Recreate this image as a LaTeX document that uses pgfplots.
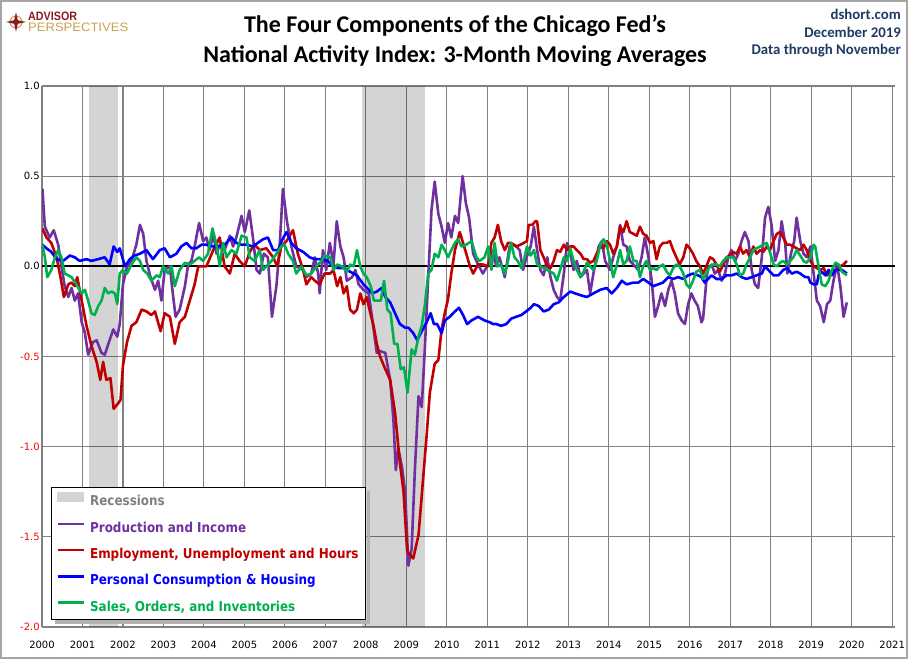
\documentclass[border=0pt]{standalone}
\usepackage{pgfplots}
\pgfplotsset{compat=1.18}
\usepackage{fontspec}
\usepackage{graphicx}
\setmainfont{Carlito}
\newfontfamily\dvs{DejaVu Sans}
\newfontfamily\dvsb{DejaVu Sans}[FakeStretch=0.88]
\newfontfamily\lib{Liberation Sans}
\definecolor{purpC}{HTML}{7030A0}
\definecolor{redC}{HTML}{C00000}
\definecolor{blueC}{HTML}{0000FF}
\definecolor{greenC}{HTML}{00B050}
\definecolor{navyC}{HTML}{1F3A64}
\definecolor{logored}{HTML}{8C1C24}
\definecolor{logogold}{HTML}{C8A050}
\definecolor{recTxt}{HTML}{808080}
\begin{document}
\begin{tikzpicture}[x=1pt,y=1pt]
\useasboundingbox (0,0) rectangle (910,661);
\draw[gray!70, line width=1.2pt] (1,3) rectangle (907,660);
% logo
\draw[logogold, line width=1pt] (16,639) circle (6);
\fill[logored] (16,649)--(17.8,640.8)--(26,639)--(17.8,637.2)--(16,629)--(14.2,637.2)--(6,639)--(14.2,640.8)--cycle;
\node[anchor=base west, inner sep=0, text=logored] at (28,640.5) {\resizebox{49pt}{8.5pt}{\lib\bfseries ADVISOR}};
\node[anchor=base west, inner sep=0, text=logogold] at (28,629.5) {\resizebox{100pt}{8.5pt}{\lib PERSPECTIVES}};
% titles
\node[font=\fontsize{24}{28}\selectfont\bfseries] at (455,635) {The Four Components of the Chicago Fed's};
\node[font=\fontsize{24}{28}\selectfont\bfseries] at (455,605) {National Activity Index: 3-Month Moving Averages};
\node[anchor=base east, inner sep=0, font=\fontsize{14.8}{16}\selectfont\bfseries, text=navyC] at (901,641) {dshort.com};
\node[anchor=base east, inner sep=0, font=\fontsize{14.8}{16}\selectfont\bfseries, text=navyC] at (901,623.5) {December 2019};
\node[anchor=base east, inner sep=0, font=\fontsize{14.8}{16}\selectfont\bfseries, text=navyC] at (901,606) {Data through November};
\begin{axis}[
  at={(42pt,34pt)}, anchor=south west,
  scale only axis, width=853pt, height=541pt,
  xmin=2000, xmax=2021.07, ymin=-2, ymax=1,
  axis line style={draw=none},
  xtick={2000,2001,2002,2003,2004,2005,2006,2007,2008,2009,2010,2011,2012,2013,2014,2015,2016,2017,2018,2019,2020,2021},
  xticklabels={2000,2001,2002,2003,2004,2005,2006,2007,2008,2009,2010,2011,2012,2013,2014,2015,2016,2017,2018,2019,2020,2021},
  ytick={-2,-1.5,-1,-0.5,0,0.5,1},
  yticklabels={\textcolor{red}{-2.0},\textcolor{red}{-1.5},\textcolor{red}{-1.0},\textcolor{red}{-0.5},0.0,0.5,1.0},
  major tick length=0pt,
  xticklabel style={font=\dvs\fontsize{10}{11}\selectfont, yshift=-11pt},
  yticklabel style={font=\dvs\fontsize{10}{11}\selectfont, xshift=1.2pt},
  grid=major,
  major grid style={draw=gray, line width=1.1pt},
  legend cell align=left,
  legend style={name=leg, at={(0.0106,0.013)}, anchor=south west, draw=black, line width=0.9pt, fill=white,
    font=\dvsb\bfseries\fontsize{13.6}{15}\selectfont,
    inner xsep=5pt, inner ysep=5pt, row sep=10.5pt,
    /tikz/every odd column/.append style={column sep=3pt}},
  legend image code/.code={\draw[#1, line width=2.6pt] (0pt,3.8pt) -- (26pt,3.8pt);},
]
% recessions
\addplot[fill=black, fill opacity=0.17, draw=none, forget plot] coordinates {(2001.17,-2) (2001.17,1) (2001.87,1) (2001.87,-2)} -- cycle;
\addplot[fill=black, fill opacity=0.17, draw=none, forget plot] coordinates {(2007.90,-2) (2007.90,1) (2009.46,1) (2009.46,-2)} -- cycle;
% zero line
\addplot[black, line width=1.8pt, forget plot] coordinates {(2000,0) (2021.07,0)};
% Production and Income
\addplot[purpC, line width=2.6pt, line join=round, forget plot] coordinates {
(2000.01,0.43) (2000.07,0.22) (2000.19,0.16) (2000.29,0.20) (2000.40,0.12) (2000.48,0.00) (2000.56,-0.11) (2000.65,-0.17) (2000.73,-0.12) (2000.81,-0.19) (2000.89,-0.15) (2000.98,-0.31)
(2001.06,-0.37) (2001.14,-0.49) (2001.26,-0.42) (2001.35,-0.41) (2001.47,-0.48) (2001.55,-0.49) (2001.67,-0.41) (2001.76,-0.35) (2001.86,-0.39) (2001.92,-0.32)
(2002.00,-0.10) (2002.10,0.00) (2002.21,0.03) (2002.33,0.12) (2002.42,0.23) (2002.50,0.18) (2002.58,0.03) (2002.68,-0.06) (2002.79,-0.13) (2002.87,-0.08) (2002.95,-0.19)
(2003.03,-0.02) (2003.16,0.00) (2003.21,-0.11) (2003.30,-0.28) (2003.40,-0.24) (2003.53,-0.11) (2003.61,0.01) (2003.69,0.03) (2003.77,0.11) (2003.88,0.24) (2003.98,0.14)
(2004.06,0.16) (2004.14,0.09) (2004.23,0.18) (2004.31,0.07) (2004.39,0.12) (2004.51,0.09) (2004.64,0.17) (2004.72,0.11) (2004.80,0.16) (2004.93,0.28)
(2005.01,0.19) (2005.12,0.31) (2005.21,0.16) (2005.30,-0.02) (2005.38,-0.04) (2005.48,0.07) (2005.58,0.05) (2005.68,-0.28) (2005.79,-0.11) (2005.87,0.11) (2005.95,0.43)
(2006.05,0.25) (2006.16,0.11) (2006.28,0.00) (2006.45,-0.02) (2006.53,-0.06) (2006.65,-0.04) (2006.74,0.05) (2006.82,-0.04) (2006.86,-0.15) (2006.94,0.09)
(2007.02,-0.02) (2007.11,0.13) (2007.20,0.01) (2007.28,0.25) (2007.37,0.11) (2007.45,0.05) (2007.53,-0.08) (2007.66,-0.06) (2007.74,-0.02) (2007.82,-0.10) (2007.94,-0.13)
(2008.07,-0.15) (2008.15,-0.28) (2008.27,-0.48) (2008.35,-0.47) (2008.48,-0.48) (2008.60,-0.63) (2008.68,-0.85) (2008.74,-1.13) (2008.80,-1.01) (2008.89,-1.11) (2008.97,-1.25)
(2009.05,-1.66) (2009.13,-1.57) (2009.21,-1.13) (2009.30,-0.72) (2009.38,-0.78) (2009.46,-0.44) (2009.54,-0.06) (2009.62,0.31) (2009.70,0.47) (2009.79,0.29) (2009.87,0.22) (2009.95,0.13)
(2010.03,0.24) (2010.11,0.16) (2010.20,0.28) (2010.28,0.24) (2010.39,0.50) (2010.47,0.35) (2010.55,0.27) (2010.65,0.07) (2010.77,0.01) (2010.89,-0.04)
(2011.02,0.01) (2011.14,0.09) (2011.22,0.00) (2011.30,0.05) (2011.43,-0.06) (2011.55,0.11) (2011.67,0.12) (2011.80,0.09) (2011.88,-0.02) (2011.97,0.05)
(2012.07,0.11) (2012.15,0.22) (2012.23,0.09) (2012.31,-0.02) (2012.39,-0.05) (2012.48,0.05) (2012.56,-0.06) (2012.64,-0.13) (2012.72,-0.17) (2012.80,-0.19) (2012.89,-0.04) (2012.97,0.13)
(2013.05,0.07) (2013.13,-0.02) (2013.21,0.03) (2013.30,-0.06) (2013.38,-0.04) (2013.46,-0.02) (2013.54,-0.15) (2013.62,-0.04) (2013.75,0.11) (2013.83,0.14) (2013.91,0.03)
(2014.03,-0.02) (2014.11,0.05) (2014.20,0.11) (2014.28,0.23) (2014.36,0.12) (2014.44,0.11) (2014.52,0.03) (2014.61,0.01) (2014.73,-0.02) (2014.81,0.05) (2014.89,0.16) (2014.98,0.05)
(2015.06,-0.08) (2015.14,-0.28) (2015.22,-0.22) (2015.30,-0.15) (2015.39,-0.22) (2015.47,-0.13) (2015.55,-0.08) (2015.63,-0.15) (2015.71,-0.26) (2015.80,-0.30) (2015.88,-0.32) (2015.96,-0.21)
(2016.04,-0.15) (2016.12,-0.19) (2016.20,-0.22) (2016.29,-0.31) (2016.33,-0.29) (2016.41,-0.08) (2016.45,-0.01) (2016.54,0.01) (2016.62,-0.04) (2016.70,-0.02) (2016.79,-0.08) (2016.87,-0.04) (2016.95,0.05)
(2017.03,0.09) (2017.12,0.03) (2017.20,0.07) (2017.28,0.14) (2017.36,0.19) (2017.45,0.14) (2017.53,-0.02) (2017.61,-0.10) (2017.69,-0.12) (2017.78,0.05) (2017.86,0.27) (2017.94,0.33)
(2018.02,0.23) (2018.11,0.03) (2018.19,0.09) (2018.27,0.25) (2018.36,0.12) (2018.41,-0.04) (2018.50,0.07) (2018.58,0.14) (2018.64,0.27) (2018.73,0.14) (2018.81,0.07) (2018.89,0.05) (2018.98,0.11)
(2019.06,-0.04) (2019.14,-0.19) (2019.22,-0.22) (2019.31,-0.31) (2019.39,-0.21) (2019.47,-0.19) (2019.55,-0.08) (2019.64,0.01) (2019.72,-0.11) (2019.80,-0.28) (2019.88,-0.20)
};
% Employment, Unemployment and Hours
\addplot[redC, line width=2.6pt, line join=round, forget plot] coordinates {
(2000.01,0.21) (2000.11,0.16) (2000.23,0.13) (2000.36,0.05) (2000.44,-0.04) (2000.54,-0.17) (2000.65,-0.10) (2000.73,-0.09) (2000.81,-0.11) (2000.87,-0.06) (2000.98,-0.19)
(2001.10,-0.33) (2001.22,-0.44) (2001.35,-0.53) (2001.44,-0.63) (2001.51,-0.53) (2001.59,-0.63) (2001.69,-0.62) (2001.77,-0.79) (2001.88,-0.76) (2001.94,-0.74)
(2002.00,-0.55) (2002.10,-0.42) (2002.21,-0.33) (2002.33,-0.31) (2002.46,-0.24) (2002.58,-0.25) (2002.70,-0.27) (2002.79,-0.25) (2002.93,-0.36)
(2003.03,-0.26) (2003.16,-0.28) (2003.28,-0.43) (2003.40,-0.31) (2003.53,-0.28) (2003.65,-0.19) (2003.77,-0.10) (2003.86,0.00) (2003.98,0.00)
(2004.06,0.00) (2004.23,0.09) (2004.39,0.16) (2004.51,0.00) (2004.64,-0.04) (2004.76,0.07) (2004.88,0.03)
(2005.01,0.00) (2005.13,0.08) (2005.25,0.12) (2005.38,0.09) (2005.54,0.10) (2005.71,0.05) (2005.81,0.00) (2005.91,0.11)
(2006.04,0.14) (2006.20,0.20) (2006.32,0.07) (2006.45,-0.02) (2006.53,-0.10) (2006.65,-0.06) (2006.74,-0.08) (2006.86,-0.10) (2006.98,-0.04)
(2007.12,-0.04) (2007.20,-0.02) (2007.29,-0.11) (2007.37,-0.06) (2007.45,-0.15) (2007.53,-0.11) (2007.61,-0.24) (2007.70,-0.26) (2007.78,-0.24) (2007.86,-0.15) (2007.94,-0.21)
(2008.02,-0.17) (2008.11,-0.26) (2008.19,-0.33) (2008.27,-0.43) (2008.35,-0.50) (2008.48,-0.57) (2008.60,-0.63) (2008.72,-0.81) (2008.84,-1.09) (2008.93,-1.25)
(2009.02,-1.58) (2009.17,-1.62) (2009.30,-1.49) (2009.42,-1.16) (2009.50,-0.94) (2009.58,-0.70) (2009.70,-0.54) (2009.79,-0.52) (2009.87,-0.35) (2009.95,-0.26)
(2010.03,-0.18) (2010.11,-0.04) (2010.20,0.09) (2010.32,0.19) (2010.40,0.13) (2010.48,0.07) (2010.57,0.00) (2010.65,-0.04) (2010.77,0.01) (2010.89,0.01)
(2011.02,0.00) (2011.10,0.13) (2011.18,0.16) (2011.26,0.23) (2011.34,0.14) (2011.43,0.09) (2011.51,0.13) (2011.59,0.13) (2011.71,0.11) (2011.82,0.12) (2011.90,0.13) (2011.98,0.14)
(2012.02,0.23) (2012.11,0.23) (2012.19,0.25) (2012.23,0.25) (2012.31,0.09) (2012.39,0.05) (2012.48,0.00) (2012.56,-0.01) (2012.64,0.03) (2012.72,0.09) (2012.80,0.08) (2012.89,0.12) (2012.97,0.09)
(2013.05,0.11) (2013.13,0.11) (2013.21,0.09) (2013.30,0.07) (2013.38,0.04) (2013.46,0.04) (2013.54,0.02) (2013.62,0.03) (2013.70,0.07) (2013.79,0.11) (2013.87,0.10) (2013.95,0.14)
(2014.03,0.12) (2014.11,0.07) (2014.20,0.11) (2014.28,0.22) (2014.36,0.19) (2014.44,0.25) (2014.52,0.19) (2014.61,0.18) (2014.69,0.17) (2014.77,0.22) (2014.85,0.18) (2014.93,0.17)
(2015.02,0.13) (2015.10,0.14) (2015.18,0.04) (2015.26,0.11) (2015.34,0.13) (2015.43,0.13) (2015.51,0.14) (2015.59,0.09) (2015.67,0.05) (2015.75,0.01) (2015.84,0.05) (2015.92,0.12)
(2016.00,0.10) (2016.08,0.07) (2016.16,0.03) (2016.25,0.00) (2016.33,-0.04) (2016.41,0.00) (2016.50,0.05) (2016.58,0.04) (2016.66,0.01) (2016.74,-0.03) (2016.83,0.01) (2016.91,0.05) (2016.99,0.06)
(2017.07,0.08) (2017.16,0.07) (2017.24,0.11) (2017.32,0.07) (2017.40,0.09) (2017.49,0.05) (2017.57,0.11) (2017.65,0.07) (2017.74,0.09) (2017.82,0.08) (2017.90,0.11) (2017.98,0.09)
(2018.07,0.14) (2018.15,0.18) (2018.23,0.19) (2018.31,0.16) (2018.40,0.12) (2018.48,0.12) (2018.56,0.11) (2018.64,0.10) (2018.73,0.09) (2018.81,0.12) (2018.89,0.09) (2018.98,0.03)
(2019.06,0.00) (2019.14,-0.01) (2019.22,-0.02) (2019.31,-0.01) (2019.39,-0.05) (2019.47,-0.04) (2019.55,-0.02) (2019.64,-0.02) (2019.72,0.00) (2019.80,0.01) (2019.88,0.03)
};
% Personal Consumption & Housing
\addplot[blueC, line width=2.6pt, line join=round, forget plot] coordinates {
(2000.01,0.12) (2000.11,0.10) (2000.23,0.08) (2000.36,0.04) (2000.52,0.03) (2000.69,0.06) (2000.81,0.05) (2000.93,0.03)
(2001.10,0.04) (2001.22,0.03) (2001.39,0.04) (2001.55,0.05) (2001.67,0.01) (2001.77,0.11) (2001.86,0.08) (2001.92,0.10)
(2002.05,0.00) (2002.17,0.04) (2002.29,0.06) (2002.42,0.07) (2002.58,0.09) (2002.74,0.04) (2002.91,0.09)
(2003.03,0.10) (2003.16,0.05) (2003.32,0.07) (2003.44,0.11) (2003.57,0.13) (2003.69,0.10) (2003.81,0.10) (2003.94,0.12)
(2004.06,0.12) (2004.23,0.11) (2004.35,0.11) (2004.51,0.12) (2004.68,0.16) (2004.80,0.13) (2004.93,0.12)
(2005.05,0.12) (2005.21,0.11) (2005.33,0.13) (2005.46,0.15) (2005.58,0.16) (2005.71,0.09) (2005.83,0.09) (2005.94,0.15)
(2006.04,0.19) (2006.16,0.13) (2006.28,0.10) (2006.45,0.08) (2006.61,0.05) (2006.74,0.04) (2006.90,0.04)
(2007.06,0.03) (2007.19,0.00) (2007.31,-0.01) (2007.45,-0.01) (2007.61,-0.03) (2007.78,-0.05) (2007.94,-0.10)
(2008.07,-0.13) (2008.15,-0.15) (2008.27,-0.14) (2008.39,-0.12) (2008.48,-0.17) (2008.60,-0.20) (2008.72,-0.26) (2008.84,-0.32) (2008.97,-0.34)
(2009.05,-0.34) (2009.17,-0.37) (2009.27,-0.41) (2009.38,-0.36) (2009.50,-0.31) (2009.60,-0.26) (2009.68,-0.32) (2009.76,-0.32) (2009.87,-0.37) (2009.95,-0.30)
(2010.07,-0.28) (2010.20,-0.25) (2010.30,-0.23) (2010.40,-0.27) (2010.50,-0.32) (2010.61,-0.30) (2010.77,-0.28) (2010.93,-0.30)
(2011.06,-0.31) (2011.14,-0.32) (2011.22,-0.32) (2011.34,-0.33) (2011.47,-0.32) (2011.59,-0.29) (2011.71,-0.28) (2011.84,-0.27) (2011.96,-0.25)
(2012.07,-0.23) (2012.15,-0.21) (2012.27,-0.22) (2012.39,-0.25) (2012.52,-0.24) (2012.64,-0.21) (2012.76,-0.20) (2012.89,-0.17)
(2013.05,-0.14) (2013.17,-0.15) (2013.30,-0.16) (2013.46,-0.17) (2013.54,-0.16) (2013.62,-0.15) (2013.79,-0.13) (2013.95,-0.12)
(2014.07,-0.15) (2014.20,-0.12) (2014.32,-0.08) (2014.44,-0.10) (2014.61,-0.09) (2014.73,-0.09) (2014.85,-0.07) (2014.98,-0.09)
(2015.10,-0.11) (2015.22,-0.10) (2015.34,-0.09) (2015.47,-0.06) (2015.59,-0.07) (2015.71,-0.06) (2015.84,-0.07) (2015.96,-0.05)
(2016.08,-0.04) (2016.20,-0.05) (2016.29,-0.06) (2016.37,-0.09) (2016.45,-0.07) (2016.54,-0.05) (2016.66,-0.07) (2016.79,-0.07) (2016.91,-0.05)
(2017.03,-0.05) (2017.16,-0.04) (2017.28,-0.06) (2017.40,-0.07) (2017.53,-0.06) (2017.65,-0.05) (2017.78,-0.04) (2017.86,0.00) (2017.94,-0.02)
(2018.07,-0.05) (2018.19,-0.05) (2018.31,-0.02) (2018.40,-0.01) (2018.52,-0.04) (2018.64,-0.03) (2018.73,-0.04) (2018.85,-0.06) (2018.93,-0.06) (2018.98,-0.09)
(2019.06,-0.10) (2019.14,-0.10) (2019.18,-0.05) (2019.26,-0.03) (2019.35,-0.05) (2019.43,-0.02) (2019.51,-0.05) (2019.60,-0.02) (2019.68,-0.02) (2019.76,-0.02) (2019.88,-0.04)
};
% Sales, Orders, and Inventories
\addplot[greenC, line width=2.6pt, line join=round, forget plot] coordinates {
(2000.01,0.12) (2000.07,0.05) (2000.13,-0.06) (2000.23,-0.02) (2000.32,0.05) (2000.40,0.09) (2000.48,0.05) (2000.56,-0.04) (2000.65,-0.05) (2000.73,-0.06) (2000.85,-0.10) (2000.98,-0.15)
(2001.06,-0.13) (2001.14,-0.19) (2001.22,-0.26) (2001.30,-0.27) (2001.39,-0.22) (2001.47,-0.19) (2001.55,-0.12) (2001.63,-0.15) (2001.72,-0.14) (2001.80,-0.15) (2001.86,-0.21) (2001.92,-0.04)
(2002.00,-0.02) (2002.10,-0.04) (2002.21,0.01) (2002.33,0.05) (2002.42,0.03) (2002.50,-0.02) (2002.60,-0.04) (2002.70,-0.08) (2002.83,-0.05) (2002.91,-0.06) (2002.99,0.00)
(2003.12,-0.04) (2003.20,0.00) (2003.28,-0.11) (2003.40,-0.02) (2003.53,0.02) (2003.65,0.01) (2003.77,0.03) (2003.88,0.05) (2003.98,0.03)
(2004.10,0.07) (2004.21,0.21) (2004.31,0.12) (2004.39,0.00) (2004.47,0.13) (2004.56,0.05) (2004.68,0.09) (2004.80,0.07) (2004.93,0.17)
(2005.05,0.16) (2005.13,0.05) (2005.25,0.03) (2005.38,0.09) (2005.46,-0.02) (2005.54,0.00) (2005.67,0.03) (2005.79,0.07) (2005.91,0.11) (2005.99,0.12)
(2006.08,0.07) (2006.20,0.03) (2006.28,-0.04) (2006.41,0.00) (2006.53,-0.05) (2006.65,-0.04) (2006.78,0.00) (2006.90,0.03) (2006.98,0.06)
(2007.12,0.05) (2007.20,-0.02) (2007.29,0.01) (2007.41,0.00) (2007.53,-0.03) (2007.61,0.01) (2007.70,0.00) (2007.78,0.09) (2007.86,0.00) (2007.94,-0.04)
(2008.02,-0.06) (2008.12,-0.11) (2008.20,-0.19) (2008.29,-0.19) (2008.37,-0.19) (2008.45,-0.08) (2008.53,-0.24) (2008.61,-0.26) (2008.70,-0.43) (2008.78,-0.43) (2008.86,-0.57) (2008.94,-0.56)
(2009.03,-0.70) (2009.13,-0.46) (2009.21,-0.49) (2009.30,-0.39) (2009.38,-0.33) (2009.46,-0.21) (2009.54,-0.04) (2009.62,-0.02) (2009.70,0.07) (2009.79,0.05) (2009.87,0.12) (2009.95,0.09)
(2010.03,0.05) (2010.11,0.09) (2010.20,0.13) (2010.28,0.15) (2010.36,0.11) (2010.48,0.12) (2010.61,0.14) (2010.73,0.05) (2010.81,0.03) (2010.93,0.05)
(2011.02,0.11) (2011.10,-0.02) (2011.18,0.13) (2011.26,0.00) (2011.34,0.01) (2011.43,-0.04) (2011.51,0.03) (2011.59,0.13) (2011.67,0.05) (2011.75,0.03) (2011.84,-0.01) (2011.91,0.04) (2011.98,0.11)
(2012.07,0.06) (2012.15,0.09) (2012.23,0.01) (2012.31,0.00) (2012.39,-0.01) (2012.48,-0.02) (2012.56,-0.03) (2012.64,-0.04) (2012.72,-0.08) (2012.80,-0.02) (2012.89,0.05) (2012.97,0.03)
(2013.05,0.10) (2013.13,0.03) (2013.21,-0.02) (2013.30,-0.06) (2013.38,-0.03) (2013.46,0.02) (2013.54,0.00) (2013.62,-0.02) (2013.70,0.03) (2013.79,0.12) (2013.87,0.15) (2013.95,0.12)
(2014.03,0.03) (2014.11,-0.06) (2014.20,0.01) (2014.28,0.09) (2014.36,0.01) (2014.44,0.03) (2014.52,0.11) (2014.61,0.03) (2014.69,0.03) (2014.77,-0.06) (2014.85,0.00) (2014.93,0.03)
(2015.02,-0.02) (2015.10,-0.01) (2015.18,-0.02) (2015.26,0.00) (2015.34,0.01) (2015.43,-0.03) (2015.51,-0.05) (2015.59,-0.01) (2015.67,0.01) (2015.75,0.00) (2015.84,-0.04) (2015.92,-0.10)
(2016.00,-0.12) (2016.08,-0.08) (2016.16,-0.03) (2016.25,-0.02) (2016.33,-0.07) (2016.41,-0.04) (2016.50,0.00) (2016.58,0.01) (2016.66,0.01) (2016.74,0.00) (2016.83,0.03) (2016.91,0.05) (2016.99,0.05)
(2017.07,0.05) (2017.16,0.01) (2017.24,-0.05) (2017.32,-0.04) (2017.40,0.01) (2017.49,0.05) (2017.57,0.09) (2017.65,0.10) (2017.74,0.11) (2017.82,0.12) (2017.90,0.13) (2017.98,0.08)
(2018.07,0.01) (2018.15,0.00) (2018.23,0.02) (2018.31,0.03) (2018.40,0.01) (2018.48,0.03) (2018.56,0.05) (2018.64,0.09) (2018.73,0.06) (2018.81,0.03) (2018.89,0.02) (2018.98,0.05)
(2019.06,0.12) (2019.10,0.11) (2019.18,0.00) (2019.26,-0.10) (2019.35,-0.11) (2019.43,-0.08) (2019.51,-0.02) (2019.60,0.02) (2019.68,0.01) (2019.76,-0.03) (2019.88,-0.05)
};
% legend
\addlegendimage{legend image code/.code={\fill[black!17] (0pt,-0.5pt) rectangle (26pt,8.5pt);}}
\addlegendentry{\textcolor{recTxt}{Recessions}}
\addlegendimage{purpC}
\addlegendentry{\textcolor{purpC}{Production and Income}}
\addlegendimage{redC}
\addlegendentry{\textcolor{redC}{Employment, Unemployment and Hours}}
\addlegendimage{blueC}
\addlegendentry{\textcolor{blueC}{Personal Consumption \& Housing}}
\addlegendimage{greenC}
\addlegendentry{\textcolor{greenC}{Sales, Orders, and Inventories}}
\end{axis}
% legend shadow (right and bottom strips)
\fill[black!30] ([shift={(0.45pt,-4pt)}]leg.north east) rectangle ([shift={(4pt,-4pt)}]leg.south east);
\fill[black!30] ([shift={(4pt,-0.45pt)}]leg.south west) rectangle ([shift={(4pt,-4pt)}]leg.south east);
\end{tikzpicture}
\end{document}
